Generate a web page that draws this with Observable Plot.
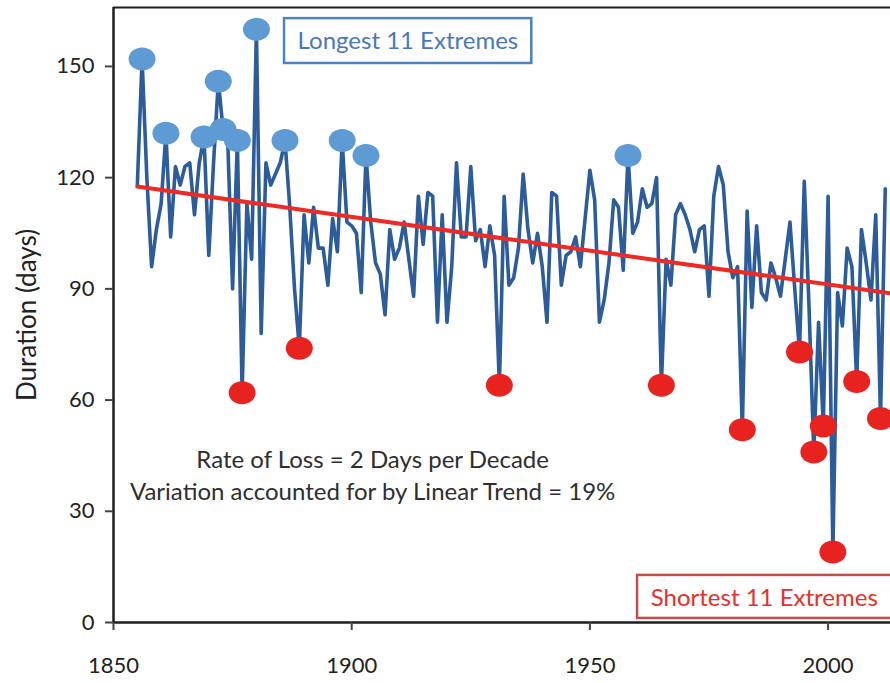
<!DOCTYPE html>
<html><head><meta charset="utf-8">
<script src="https://cdn.jsdelivr.net/npm/d3@7"></script>
<script src="https://cdn.jsdelivr.net/npm/@observablehq/plot@0.6"></script>
<style>
body{margin:0;background:#fff}
#chart g[aria-label="x-axis tick label"], #chart g[aria-label="x-axis tick label"] text,
#chart g[aria-label="y-axis tick label"], #chart g[aria-label="y-axis tick label"] text { font-size: 22px !important; }
</style>
</head><body><div id="chart"></div>
<script>
// ---- data ----
const firstYear = 1855;
const durations = [
 118,152,120,96,106,113,132,104,123,118, // 1855-1864
 123,124,110,124,131,99,124,146,133,129, // 1865-1874
 90,130,62,113,98,160,78,124,118,121,    // 1875-1884
 124,130,112,90,74,110,97,112,101,101,   // 1885-1894
 91,109,100,130,108,107,105,89,126,108,  // 1895-1904
 97,94,83,106,98,101,108,98,88,115,      // 1905-1914
 102,116,115,81,110,81,96,124,104,104,   // 1915-1924
 123,103,106,96,107,99,64,115,91,93,     // 1925-1934
 101,121,106,97,105,96,81,116,115,91,    // 1935-1944
 99,100,104,96,109,122,114,81,87,97,     // 1945-1954
 114,112,95,126,105,108,117,112,113,120, // 1955-1964
 64,98,91,110,113,110,106,100,106,107,   // 1965-1974
 88,115,123,118,100,93,96,52,111,85,     // 1975-1984
 107,89,87,97,93,88,98,108,90,73,        // 1985-1994
 119,85,46,81,53,115,19,89,80,101,       // 1995-2004
 96,65,106,97,87,110,55,117              // 2005-2012
];
const longestYears  = [1856,1861,1869,1872,1873,1876,1880,1886,1898,1903,1958];
const shortestYears = [1877,1889,1931,1965,1982,1994,1997,1999,2001,2006,2011];
const trendYears  = [1855, 2013.1];
const trendValues = [117.6, 88.8];
const xTicks = [1850, 1900, 1950, 2000];
const yTicks = [0, 30, 60, 90, 120, 150];
const xDomain = [1850, 2013.1];
const yDomain = [0, 165.9];
const noteText = ["Rate of Loss = 2 Days per Decade", "Variation accounted for by Linear Trend = 19%"];
const noteX = [1904.4, 1904.4];
const noteY = [43.7, 35.1];
const boxLabels = ["Longest 11 Extremes", "Shortest 11 Extremes"];
const boxX1 = [1885.9, 1960.0];
const boxX2 = [1937.8, 2016];
const boxY1 = [150.8, 1.1];
const boxY2 = [162.9, 12.7];
const boxTextX = [1911.8, 1986.6];
const boxTextY = [156.8, 6.6];
const boxColors = ["#4f81bd", "#c0504d"];
const boxTextColors = ["#4a79b8", "#e5302c"];

// ---- build ----
const data = durations.map((value, i) => ({year: firstYear + i, value}));
const longest = data.filter(d => longestYears.includes(d.year));
const shortest = data.filter(d => shortestYears.includes(d.year));
const trend = trendYears.map((year, i) => ({year, value: trendValues[i]}));
const notes = noteText.map((text, i) => ({text, x: noteX[i], y: noteY[i]}));
const boxes = boxLabels.map((label, i) => ({label, x1: boxX1[i], x2: boxX2[i], y1: boxY1[i], y2: boxY2[i],
  tx: boxTextX[i], ty: boxTextY[i], stroke: boxColors[i], color: boxTextColors[i]}));

const ellipse = {draw(ctx) {
  const rx = 13.5, ry = 11.5, k = 0.5523;
  ctx.moveTo(rx, 0);
  ctx.bezierCurveTo(rx, ry * k, rx * k, ry, 0, ry);
  ctx.bezierCurveTo(-rx * k, ry, -rx, ry * k, -rx, 0);
  ctx.bezierCurveTo(-rx, -ry * k, -rx * k, -ry, 0, -ry);
  ctx.bezierCurveTo(rx * k, -ry, rx, -ry * k, rx, 0);
  ctx.closePath();
}};

const chart = Plot.plot({
  width: 890, height: 683,
  marginLeft: 113, marginRight: 0, marginTop: 7, marginBottom: 61,
  style: {fontFamily: "Lato, sans-serif", fontSize: "22px", background: "#fff", color: "#222"},
  x: {domain: xDomain},
  y: {domain: yDomain},
  marks: [
    Plot.rect(boxes, {x1: "x1", x2: "x2", y1: "y1", y2: "y2", fill: "#fff", stroke: "stroke", strokeWidth: 2.5}),
    Plot.line(data, {x: "year", y: "value", stroke: "#2c5d9a", strokeWidth: 3.6, strokeLinejoin: "round"}),
    Plot.line(trend, {x: "year", y: "value", stroke: "#ee2a24", strokeWidth: 4}),
    Plot.dot(longest, {x: "year", y: "value", symbol: ellipse, fill: "#5e9ad3", stroke: "none", r: 12}),
    Plot.dot(shortest, {x: "year", y: "value", symbol: ellipse, fill: "#e8231f", stroke: "none", r: 12}),
    Plot.text(boxes, {x: "tx", y: "ty", text: "label", fill: "color", fontSize: 24}),
    Plot.text(notes, {x: "x", y: "y", text: "text", fill: "#2e2e2e", fontSize: 24}),
    Plot.ruleX([xDomain[0]], {stroke: "#1e1e1e", strokeWidth: 2.5}),
    Plot.ruleY([yDomain[0]], {stroke: "#1e1e1e", strokeWidth: 2.5}),
    Plot.ruleY([yDomain[1]], {stroke: "#1e1e1e", strokeWidth: 2}),
    Plot.axisX({ticks: xTicks, tickFormat: d => String(d), tickSize: 8, tickPadding: 27, fontSize: 22, label: null, stroke: "#444", strokeWidth: 2, fill: "#222"}),
    Plot.axisY({ticks: yTicks, tickSize: 8, tickPadding: 11, fontSize: 22, label: null, stroke: "#444", strokeWidth: 2, fill: "#222"}),
    Plot.text(["Duration (days)"], {frameAnchor: "left", rotate: -90, dx: -86, dy: 0, textAnchor: "middle", fontSize: 26, fill: "#222"})
  ]
});
document.getElementById("chart").appendChild(chart);
</script>
</body></html>
